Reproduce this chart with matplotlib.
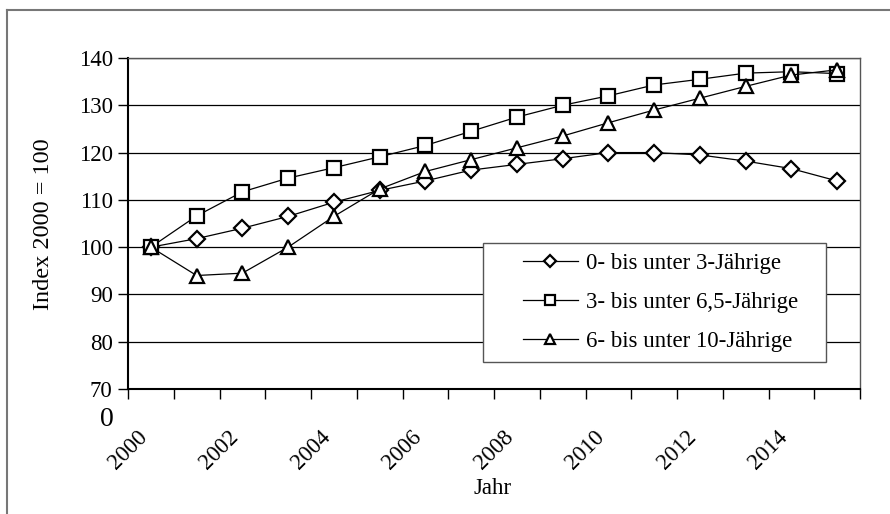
import matplotlib
matplotlib.use("Agg")
import matplotlib.pyplot as plt
from matplotlib.lines import Line2D
from matplotlib.patches import Rectangle
from matplotlib.transforms import ScaledTranslation

plt.rcParams['font.family'] = ['Liberation Serif', 'DejaVu Serif']

# Jahre 2000 bis 2015
jahre = list(range(2000, 2016))
# Index 2000 = 100
u3 = [100, 101.8, 104, 106.5, 109.5, 112, 114, 116.3, 117.5, 118.7, 120, 120, 119.5, 118.2, 116.6, 114]
u65 = [100, 106.6, 111.7, 114.6, 116.8, 119.1, 121.5, 124.5, 127.5, 130, 132, 134.3, 135.5, 136.8, 137.1, 136.7]
u10 = [100, 94, 94.5, 100, 106.5, 112.3, 116, 118.5, 121, 123.5, 126.3, 129, 131.5, 134, 136.4, 137.5]
namen = ['0- bis unter 3-Jährige', '3- bis unter 6,5-Jährige', '6- bis unter 10-Jährige']
marker = ['D', 's', '^']

fs = 16.5

fig = plt.figure(figsize=(8.9, 5.14), dpi=100)
ax = fig.add_axes([128/890, 1-389/514, (860-128)/890, (389-58)/514])

x = list(range(len(jahre)))
for werte, m, ms in zip([u3, u65, u10], marker, [8, 10, 10]):
    ax.plot(x, werte, color='black', lw=0.9, marker=m, ms=ms,
            mfc='white', mec='black', mew=1.6, zorder=3)

ax.set_xlim(-0.5, len(jahre) - 0.5)
ax.set_ylim(70, 140)
ax.set_yticks(range(70, 141, 10))
ax.yaxis.grid(True, color='black', lw=0.9)
ax.set_axisbelow(True)

# Ticks an den Kategoriegrenzen, Beschriftung jede zweite
grenzen = [i - 0.5 for i in range(len(jahre) + 1)]
ax.set_xticks(grenzen)
ax.set_xticklabels([str(jahre[i]) if i < len(jahre) and i % 2 == 0 else '' for i in range(len(grenzen))],
                   rotation=45, fontsize=fs)
for lab in ax.get_xticklabels():
    lab.set_transform(lab.get_transform() + ScaledTranslation(-15/100, 0, fig.dpi_scale_trans))
ax.tick_params(axis='x', direction='out', length=7, width=1, pad=20)
ax.tick_params(axis='y', direction='out', length=7, width=1, pad=4, labelsize=fs)

for s in ['top', 'right']:
    ax.spines[s].set_color('#555555')
    ax.spines[s].set_linewidth(1)
for s in ['left', 'bottom']:
    ax.spines[s].set_color('black')
    ax.spines[s].set_linewidth(1.5)

fig.text(44/890, 1-224/514, 'Index 2000 = 100', rotation=90, ha='center', va='center', fontsize=17.5)
fig.text(493/890, 1-488/514, 'Jahr', ha='center', va='center', fontsize=fs)
fig.text(107/890, 1-420/514, '0', ha='center', va='center', fontsize=20)

# Legende: Rahmen separat, Inhalt zentriert
lx, ly, lw_, lh = 483/890, 1-362/514, (826-483)/890, 119/514
fig.add_artist(Rectangle((lx, ly), lw_, lh, transform=fig.transFigure,
                         facecolor='white', edgecolor='#555555', lw=1, zorder=4))
handles = [Line2D([], [], color='black', lw=0.9, marker=m, ms=ms, mfc='white', mec='black', mew=1.6)
           for m, ms in zip(marker, [6, 7, 7])]
leg = fig.legend(handles, namen, loc='center', bbox_to_anchor=(lx + 6/890, ly, lw_, lh),
                 fontsize=fs, frameon=False, handlelength=2.4,
                 labelspacing=0.78, borderpad=0, handletextpad=0.35, borderaxespad=0)
leg.set_zorder(5)

# Rahmen um das Diagramm
fig.add_artist(Line2D([7/890, 7/890], [0, 1-10/514], color='#777777', lw=1.5))
fig.add_artist(Line2D([7/890, 1], [1-10/514, 1-10/514], color='#777777', lw=1.5))

fig.savefig('out.png', dpi=100)
